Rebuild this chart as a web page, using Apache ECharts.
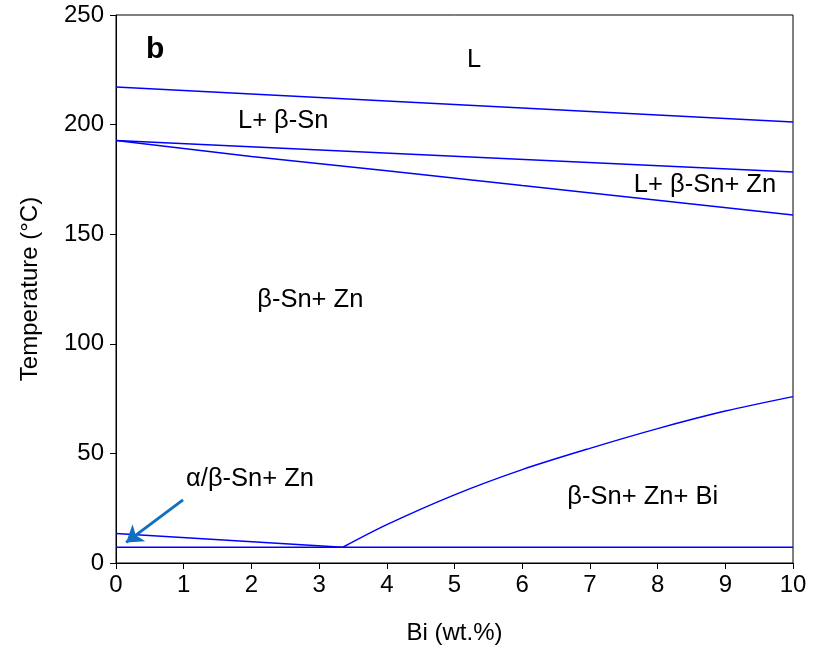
<!DOCTYPE html>
<html>
<head>
<meta charset="utf-8">
<script src="https://cdn.jsdelivr.net/npm/echarts@6/dist/echarts.min.js"></script>
<style>
html,body{margin:0;padding:0;background:#fff;}
#chart{width:813px;height:650px;}
</style>
</head>
<body>
<div id="chart"></div>
<script>
// ---- data (Bi wt.%, temperature °C) ----
const xTicks = [0,1,2,3,4,5,6,7,8,9,10];
const yTicks = [0,50,100,150,200,250];

const liquidus     = [[0,217.2],[10,201.2]];
const upperSolvus  = [[0,192.7],[10,178.4]];
const lowerSolvus  = [[0,192.7],[2,185.5],[4,179.0],[6,172.2],[8,165.5],[10,158.8]];
const biCurve      = [[3.35,7.2],[4,17.5],[5,31.1],[6,42.6],[7,52.3],[8,61.3],[9,69.3],[10,75.9]];
const eutectoid    = [[0,7.2],[10,7.2]];
const alphaBeta    = [[0,13.5],[3.35,7.2]];

const arrowFrom = [0.99,28.8];
const arrowTo   = [0.15,9.4];

const labelTexts = ['b','L','L+ β-Sn','L+ β-Sn+ Zn','β-Sn+ Zn','α/β-Sn+ Zn','β-Sn+ Zn+ Bi'];
const labelX     = [0.58,5.29,2.47,8.70,2.87,1.98,7.78];
const labelY     = [234,229.5,201.6,172.4,120,38.3,30.1];

const font = 'Liberation Sans, Arial, sans-serif';
const lineColor = '#0000FF';

function lineSeries(data){
  return {type:'line', data:data, showSymbol:false, symbol:'none',
    lineStyle:{color:lineColor, width:1.5}, z:3, silent:true};
}

const labelData = labelTexts.map((t,i)=>({
  value:[labelX[i],labelY[i]],
  label:{show:true, position:'inside', formatter:t,
    fontSize: i===0 ? 30 : 25.5, fontWeight: i===0 ? 'bold' : 'normal',
    color:'#000', textBorderWidth:0, fontFamily:font}
}));

const chart = echarts.init(document.getElementById('chart'));
chart.setOption({
  animation:false,
  grid:{left:116, right:20, top:15, bottom:87, show:true, borderColor:'#000', borderWidth:1},
  xAxis:{type:'value', min:0, max:10, interval:1,
    name:'Bi (wt.%)', nameLocation:'middle', nameGap:58,
    nameTextStyle:{fontSize:24, color:'#000', fontFamily:font},
    axisLine:{lineStyle:{color:'#000', width:1}},
    axisTick:{show:true, length:6, lineStyle:{color:'#000'}},
    axisLabel:{fontSize:24, color:'#000', fontFamily:font, margin:10,
      formatter:v=>xTicks.includes(v)?String(v):''},
    splitLine:{show:false}},
  yAxis:{type:'value', min:0, max:250, interval:50,
    name:'Temperature (°C)', nameLocation:'middle', nameGap:74,
    nameTextStyle:{fontSize:24, color:'#000', fontFamily:font},
    axisLine:{show:true, lineStyle:{color:'#000', width:1}},
    axisTick:{show:true, length:6, lineStyle:{color:'#000'}},
    axisLabel:{fontSize:24, color:'#000', fontFamily:font, margin:12,
      formatter:v=>yTicks.includes(v)?String(v):''},
    splitLine:{show:false}},
  series:[
    lineSeries(liquidus),
    lineSeries(upperSolvus),
    lineSeries(lowerSolvus),
    Object.assign(lineSeries(biCurve), {smooth:0.3}),
    lineSeries(eutectoid),
    lineSeries(alphaBeta),
    {type:'lines', coordinateSystem:'cartesian2d', silent:true, z:4,
      symbol:['none','arrow'], symbolSize:16,
      lineStyle:{color:'#1070C0', width:3, opacity:1},
      data:[{coords:[arrowFrom, arrowTo]}]},
    {type:'scatter', symbolSize:0, silent:true, data:labelData, z:5,
      itemStyle:{color:'#000', opacity:1}}
  ]
});
</script>
</body>
</html>
